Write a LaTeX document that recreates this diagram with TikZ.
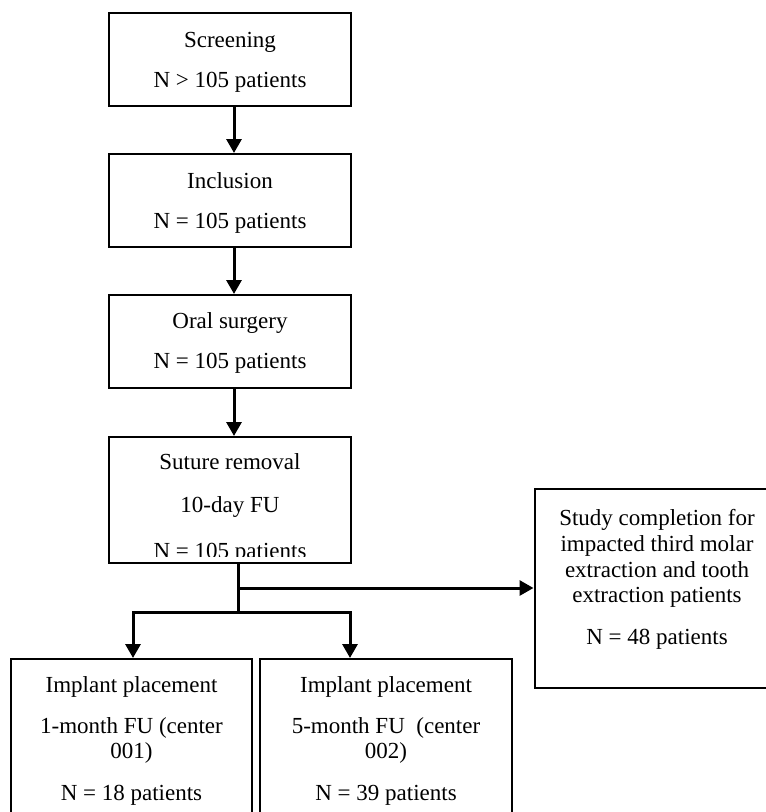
\documentclass[tikz,border=0pt]{standalone}
\usepackage{fontspec}
\setmainfont{Liberation Serif}
\usetikzlibrary{arrows.meta}
\begin{document}
\begin{tikzpicture}[x=1pt,y=-1pt,
  box/.style={draw, line width=2pt, rectangle, inner sep=0pt},
  txt/.style={anchor=base, inner sep=0pt, font=\fontsize{23}{26}\selectfont},
  conn/.style={line width=3pt, line join=miter},
  arr/.style={conn, -{Triangle[length=14pt,width=15pt]}}]
\useasboundingbox (0,0) rectangle (766,812);
\clip (0,0) rectangle (766,812);
\fill[white] (0,0) rectangle (766,812);

% boxes
\node[box, minimum width=242pt, minimum height=93pt]  (screen) at (230,59.5) {};
\node[box, minimum width=242pt, minimum height=93pt]  (incl)   at (230,200.5) {};
\node[box, minimum width=242pt, minimum height=93pt]  (oral)   at (230,341.5) {};
\node[box, minimum width=242pt, minimum height=126pt] (sut)    at (230,500) {};
\node[box, minimum width=245pt, minimum height=199pt] (study)  at (657,588.5) {};
\node[box, minimum width=241pt, minimum height=181pt] (imp1)   at (131.5,749.5) {};
\node[box, minimum width=252pt, minimum height=181pt] (imp2)   at (386,749.5) {};

% texts
\node[txt] (t1a) at (230,47) {Screening};
\node[txt] (t1b) at (230,87) {N > 105 patients};
\node[txt] (t2a) at (230,188) {Inclusion};
\node[txt] (t2b) at (230,228) {N = 105 patients};
\node[txt] (t3a) at (230,328) {Oral surgery};
\node[txt] (t3b) at (230,368) {N = 105 patients};
\node[txt] (t4a) at (230,469) {Suture removal};
\node[txt] (t4b) at (230,512) {10-day FU};
\begin{scope}
\clip (109,437) rectangle (351,556);
\node[txt] (t4c) at (230,558) {N = 105 patients};
\end{scope}
\node[txt] (t5a) at (657,525) {Study completion for};
\node[txt] (t5b) at (657,551) {impacted third molar};
\node[txt] (t5c) at (657,577) {extraction and tooth};
\node[txt] (t5d) at (657,602) {extraction patients};
\node[txt] (t5e) at (657,644) {N = 48 patients};
\node[txt] (t6a) at (131.5,692) {Implant placement};
\node[txt] (t6b) at (131.5,733) {1-month FU (center};
\node[txt] (t6c) at (131.5,758) {001)};
\node[txt] (t6d) at (131.5,800) {N = 18 patients};
\node[txt] (t7a) at (386,692) {Implant placement};
\node[txt] (t7b) at (386,733) {5-month FU\ \ (center};
\node[txt] (t7c) at (386,758) {002)};
\node[txt] (t7d) at (386,800) {N = 39 patients};

% connectors
\coordinate (ax) at (234,0);
\draw[arr] (ax |- screen.south) -- (ax |- incl.north);
\draw[arr] (ax |- incl.south) -- (ax |- oral.north);
\draw[arr] (ax |- oral.south) -- (ax |- sut.north);

\coordinate (jx) at (238,588);
\coordinate (jy) at (238,612);
\coordinate (l1) at (133,612);
\coordinate (l2) at (350,612);
\draw[conn] (jx |- sut.south) -- (jy);
\draw[arr] (jx) -- (jx -| study.west);
\draw[arr] (jy) -- (l1) -- (l1 |- imp1.north);
\draw[arr] (jy) -- (l2) -- (l2 |- imp2.north);
\end{tikzpicture}
\end{document}
